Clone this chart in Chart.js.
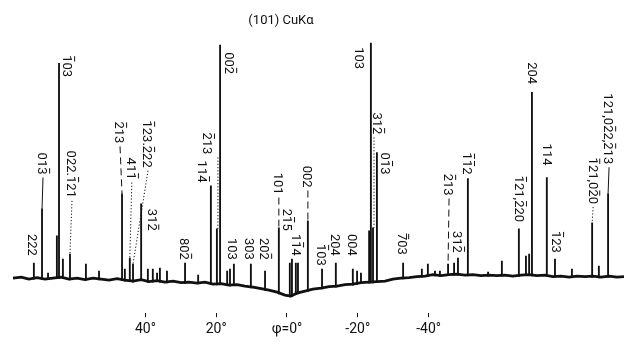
<!DOCTYPE html>
<html>
<head>
<meta charset="utf-8">
<script src="https://cdn.jsdelivr.net/npm/chart.js@4.4.1/dist/chart.umd.min.js"></script>
<style>
  html, body { margin: 0; background: #fff; }
  #wrap { width: 624px; height: 353px; }
</style>
</head>
<body>
<div id="wrap"><canvas id="scan"></canvas></div>
<script>
// phi scan of the (101) reflection, CuK-alpha
const title = '(101) CuKα';

// background trace: phi (deg) and counts
const tracePhi = [77.4, 75.1, 72.9, 70.6, 68.4, 66.1, 63.8, 61.6, 59.3, 57.1, 54.8, 52.5, 50.3, 48.0, 45.8, 43.5,
    41.2, 39.0, 36.7, 34.5, 32.2, 29.9, 27.7, 25.4, 23.2, 20.9, 18.6, 16.4, 14.1, 11.9, 9.6, 7.3, 5.1, 2.8, 0.6,
    -1.1, -2.8, -5.1, -7.3, -9.6, -11.9, -14.1, -16.4, -18.6, -20.9, -23.2, -25.4, -27.7, -29.9, -32.2, -34.5,
    -36.7, -39.0, -41.2, -43.5, -45.8, -48.0, -50.3, -52.5, -54.8, -57.1, -59.3, -61.6, -63.8, -66.1, -68.4,
    -70.6, -72.9, -75.1, -77.4, -79.7, -81.9, -84.2, -86.4, -88.7, -91.0, -93.2, -95.2];
const traceCounts = [35, 36, 34, 35.5, 34, 35, 36, 34, 35, 33.5, 35, 34, 33, 34.5, 33, 32,
    33.5, 31.5, 32.5, 31, 32, 30.5, 31, 30, 31, 29, 29.5, 28, 28.5, 27, 26, 24.5, 23, 21, 18,
    17, 20, 22, 24, 25, 26.5, 27, 28.5, 29, 30.5, 31, 31.5, 32, 34, 35, 35.5,
    36.5, 37, 38.5, 37.5, 38.5, 39, 38, 38.5, 37.5, 38, 37.5, 38, 37, 38, 38.5,
    37.5, 38, 36.5, 37, 36, 37, 36.5, 37, 36, 37, 36, 36.5];

// reflections: position and peak top (counts)
const peakPhi = [71.5, 69.2, 67.5, 65.0, 64.4, 63.3, 61.3, 56.8, 53.1, 46.6, 45.8, 44.4, 43.5, 41.2, 39.3, 37.9,
    36.7, 35.9, 33.9, 28.8, 25.1, 21.5, 19.8, 18.9, 16.9, 16.1, 15.0, 10.2, 6.2, 2.3, -0.8, -1.4, -2.5, -3.1, -5.9,
    -9.9, -13.8, -18.6, -19.8, -20.9, -23.2, -23.7, -24.3, -25.4, -32.8, -38.1, -39.8, -41.8, -43.2, -45.5,
    -47.2, -48.3, -51.1, -56.8, -60.7, -65.5, -67.5, -68.4, -69.2, -73.4, -75.7, -80.5, -86.2, -88.1, -90.7];
const peakTop = [50, 104, 40, 77, 249, 54, 59, 49, 42, 119, 44, 55, 49, 109, 44, 44,
    40, 45, 42, 50, 38, 127, 84, 267, 42, 44, 49, 49, 42, 85, 50, 54, 50, 50, 92,
    44, 50, 44, 42, 40, 82, 269, 85, 160, 50, 44, 49, 42, 42, 49,
    50, 55, 134, 41, 52, 84, 57, 59, 220, 135, 54, 44, 90, 47, 119];
const peakNames = ['222', '013̄', '', '', '1̄03', '', '022.1̄21', '', '', '2̄13', '', '411̄', '1̄23.2̄22', '312̄', '', '',
    '', '', '', '802̄', '', '114̄', '2̄13', '002̄', '', '', '103', '303', '202̄', '101', '', '21̄5', '', '11̄4', '002',
    '1̄03', '204', '004', '', '', '', '103', '312̄', '01̄3', '7̄03', '', '', '', '', '2̄13',
    '', '312̄', '1̄1̄2', '', '', '1̄21,2̄20', '', '', '204', '114', '1̄23', '', '1̄21,02̄0', '', '121,02̄2,2̄13'];

const tickValues = [40, 20, 0, -20, -40];

// where each name sits, keyed by peak: dx in px from the peak, top in counts, leader style
const noteLayout = {
    0: { dx: -1, top: 79 }, 1: { dx: 1, top: 160, lead: 'solid' }, 4: { dx: 9, top: 257 },
    6: { dx: 2, top: 162, lead: 'dotted' }, 9: { dx: -2, top: 191, lead: 'dashed' },
    11: { dx: 2, top: 155, lead: 'dotted' }, 12: { dx: 15, top: 192, lead: 'dotted' },
    13: { dx: 11, top: 104 }, 19: { dx: 0, top: 75 }, 21: { dx: -8, top: 152 },
    22: { dx: -9, top: 180, lead: 'dotted', along: true }, 23: { dx: 10, top: 260 },
    26: { dx: -1, top: 75 }, 27: { dx: -1, top: 75 }, 28: { dx: 0, top: 75 },
    29: { dx: 0, top: 140, lead: 'dashed' }, 31: { dx: -4, top: 104 }, 33: { dx: -1, top: 79 },
    34: { dx: 0, top: 147, lead: 'dashed' }, 35: { dx: 0, top: 69 }, 36: { dx: 0, top: 79 },
    37: { dx: 0, top: 79 }, 41: { dx: -11, top: 265 }, 42: { dx: 5, top: 200, lead: 'dotted', along: true },
    43: { dx: 9, top: 160 }, 44: { dx: -1, top: 80 }, 49: { dx: 1, top: 139, lead: 'dashed' },
    51: { dx: 0, top: 82 }, 52: { dx: 0, top: 160 }, 55: { dx: 1, top: 137 }, 58: { dx: 1, top: 250 },
    59: { dx: 1, top: 169 }, 60: { dx: 2, top: 82 }, 62: { dx: 1, top: 155, lead: 'dotted' },
    64: { dx: 1, top: 219, lead: 'solid' }
};

const ink = '#111';
const labelFont = '13px Roboto, "Liberation Sans", sans-serif';

// background level under a peak
function baseAt(phi) {
    for (let i = 1; i < tracePhi.length; i++) {
        if (phi >= tracePhi[i]) {
            const t = (tracePhi[i - 1] - phi) / (tracePhi[i - 1] - tracePhi[i]);
            return traceCounts[i - 1] + t * (traceCounts[i] - traceCounts[i - 1]);
        }
    }
    return traceCounts[traceCounts.length - 1];
}

function drawName(ctx, text, x, y) {
    // split off combining macrons -> bar over the previous digit
    let plain = '';
    const barred = [];
    for (const ch of text) {
        if (ch === '\u0304') barred.push(plain.length - 1);
        else plain += ch;
    }
    const cap = 9.2;
    ctx.save();
    ctx.translate(x, y);
    ctx.rotate(Math.PI / 2);
    ctx.fillText(plain, 0, cap / 2);
    ctx.lineWidth = 1;
    ctx.setLineDash([]);
    barred.forEach(k => {
        const a = ctx.measureText(plain.slice(0, k)).width;
        const b = ctx.measureText(plain.slice(0, k + 1)).width;
        ctx.beginPath();
        ctx.moveTo(a + 1, -cap / 2 - 2);
        ctx.lineTo(b - 1, -cap / 2 - 2);
        ctx.stroke();
    });
    ctx.restore();
    return ctx.measureText(plain).width;
}

const notesPlugin = {
    id: 'notes',
    afterDatasetsDraw(chart) {
        const { ctx, scales: { x, y } } = chart;
        ctx.save();
        ctx.fillStyle = ink;
        ctx.strokeStyle = ink;

        ctx.font = '13px Roboto, "Liberation Sans", sans-serif';
        ctx.textAlign = 'center';
        ctx.textBaseline = 'middle';
        ctx.fillText(title, 281, 21);
        ctx.textAlign = 'left';
        ctx.textBaseline = 'alphabetic';

        ctx.font = labelFont;
        peakNames.forEach((name, i) => {
            if (!name) return;
            const lay = noteLayout[i] || { dx: 0, top: peakTop[i] + 25 };
            const px = x.getPixelForValue(peakPhi[i]);
            const lx = px + lay.dx;
            const ty = y.getPixelForValue(lay.top);
            const w = drawName(ctx, name, lx, ty);
            if (lay.lead) {
                ctx.lineWidth = 1;
                ctx.setLineDash(lay.lead === 'dotted' ? [1.2, 2] : lay.lead === 'dashed' ? [7, 4] : []);
                ctx.beginPath();
                ctx.moveTo(lay.along ? px + 1 : lx, ty + w + 3);
                ctx.lineTo(lay.along ? px + 1 : px, y.getPixelForValue(peakTop[i]));
                ctx.stroke();
            }
        });
        ctx.restore();
    }
};

new Chart(document.getElementById('scan'), {
    type: 'bar',
    data: {
        datasets: [{
            type: 'line',
            data: tracePhi.map((p, i) => ({ x: p, y: traceCounts[i] })),
            borderColor: ink,
            borderWidth: 2.8,
            pointRadius: 0,
            tension: 0
        }, {
            type: 'bar',
            data: peakPhi.map((p, i) => ({ x: p, y: [baseAt(p) - 1, peakTop[i]] })),
            backgroundColor: ink,
            barThickness: 1.2
        }]
    },
    options: {
        responsive: true,
        maintainAspectRatio: false,
        animation: false,
        devicePixelRatio: 1,
        layout: { padding: { left: 0, right: 0, top: 0, bottom: 11 } },
        plugins: {
            legend: { display: false },
            tooltip: { enabled: false }
        },
        scales: {
            x: {
                type: 'linear',
                reverse: true,
                offset: false,
                min: -95.2,
                max: 81.07,
                afterBuildTicks: axis => { axis.ticks = tickValues.map(v => ({ value: v })); },
                border: { display: false },
                grid: { offset: false, drawOnChartArea: false, drawTicks: true, tickLength: 4, color: ink, lineWidth: 1 },
                ticks: {
                    color: ink,
                    padding: 4,
                    maxRotation: 0,
                    font: { family: 'Roboto', size: 14 },
                    callback: v => (v === 0 ? 'φ=0°' : v + '°')
                }
            },
            y: {
                display: false,
                min: 0,
                max: 312
            }
        }
    },
    plugins: [notesPlugin]
});
</script>
</body>
</html>
